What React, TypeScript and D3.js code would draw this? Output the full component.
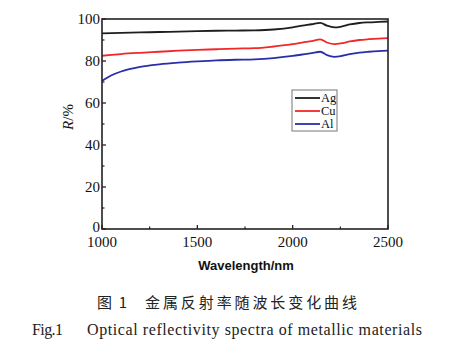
import React from 'react';
import * as d3 from 'd3';

const wavelengths = [1000, 1050, 1100, 1200, 1300, 1400, 1500, 1600, 1700, 1800, 1900, 2000, 2050, 2100, 2145, 2180, 2220, 2260, 2300, 2350, 2400, 2450, 2500];
const ag = [93.2, 93.3, 93.4, 93.6, 93.8, 94.0, 94.2, 94.4, 94.5, 94.6, 95.0, 96.0, 96.8, 97.5, 98.2, 96.8, 96.0, 96.5, 97.4, 98.1, 98.4, 98.6, 98.8];
const cu = [82.5, 82.9, 83.3, 83.9, 84.4, 84.9, 85.3, 85.6, 85.9, 86.1, 86.9, 88.0, 88.8, 89.5, 90.3, 88.8, 88.0, 88.5, 89.3, 90.0, 90.4, 90.7, 90.9];
const al = [70.5, 73.2, 75.0, 77.2, 78.4, 79.2, 79.8, 80.3, 80.6, 80.8, 81.4, 82.4, 83.1, 83.8, 84.4, 82.8, 82.0, 82.5, 83.3, 84.0, 84.4, 84.7, 84.9];

const seriesNames = ['Ag', 'Cu', 'Al'];
const seriesColors = ['#1e1e1e', '#f02828', '#2a2ea8'];
const seriesValues = [ag, cu, al];

const xTicks = [1000, 1500, 2000, 2500];
const xMinor = [1250, 1750, 2250];
const yTicks = [0, 20, 40, 60, 80, 100];
const yMinor = [10, 30, 50, 70, 90];

const W = 458;
const H = 362;
const margin = { left: 102, right: 70, top: 19, bottom: 133 };

export default function App() {
  const x = d3.scaleLinear().domain([1000, 2500]).range([margin.left, W - margin.right]);
  const y = d3.scaleLinear().domain([0, 100]).range([H - margin.bottom, margin.top]);

  const line = d3.line<number>()
    .x((_, i) => x(wavelengths[i]))
    .y(d => y(d))
    .curve(d3.curveMonotoneX);

  const serif = '"Liberation Serif", "Times New Roman", serif';
  const axisColor = '#222';

  return (
    <svg width={W} height={H} style={{ position: 'absolute', left: 0, top: 0, background: '#fff' }}>
      {/* 曲线 */}
      {seriesValues.map((vals, k) => (
        <path key={seriesNames[k]} d={line(vals) || ''} fill="none" stroke={seriesColors[k]} strokeWidth={1.8} />
      ))}

      {/* 边框 */}
      <rect x={x(1000)} y={y(100)} width={x(2500) - x(1000)} height={y(0) - y(100)}
        fill="none" stroke={axisColor} strokeWidth={1.6} />

      {/* x 轴刻度 */}
      {xTicks.map(t => (
        <g key={'x' + t}>
          <line x1={x(t)} x2={x(t)} y1={y(0)} y2={y(0) - 4} stroke={axisColor} strokeWidth={1.3} />
          <text x={x(t)} y={y(0) + 18} textAnchor="middle" fontFamily={serif} fontSize={15} fill="#111">{t}</text>
        </g>
      ))}
      {xMinor.map(t => (
        <line key={'xm' + t} x1={x(t)} x2={x(t)} y1={y(0)} y2={y(0) - 2.5} stroke={axisColor} strokeWidth={1.2} />
      ))}

      {/* y 轴刻度 */}
      {yTicks.map(t => (
        <g key={'y' + t}>
          <line x1={x(1000)} x2={x(1000) + 4} y1={y(t)} y2={y(t)} stroke={axisColor} strokeWidth={1.3} />
          <text x={x(1000) - 2} y={y(t) + (t === 0 ? 3 : 5)} textAnchor="end" fontFamily={serif} fontSize={15} fill="#111">{t}</text>
        </g>
      ))}
      {yMinor.map(t => (
        <line key={'ym' + t} x1={x(1000)} x2={x(1000) + 2.5} y1={y(t)} y2={y(t)} stroke={axisColor} strokeWidth={1.2} />
      ))}

      {/* 坐标轴标题 */}
      <text x={246} y={270} textAnchor="middle" fontFamily='"Liberation Sans", Arial, sans-serif'
        fontWeight="bold" fontSize={13} fill="#111">Wavelength/nm</text>
      <text transform="translate(73,117) rotate(-90)" textAnchor="middle" fontFamily={serif} fontSize={15} fill="#111">
        <tspan fontStyle="italic">R</tspan>/%
      </text>

      {/* 图例 */}
      <rect x={292} y={90} width={45} height={41} fill="#fff" stroke="#777" strokeWidth={1} />
      {seriesNames.map((n, k) => (
        <g key={'lg' + n}>
          <line x1={295} x2={320} y1={98 + k * 13} y2={98 + k * 13} stroke={seriesColors[k]} strokeWidth={1.8} />
          <text x={321} y={102 + k * 13} fontFamily={serif} fontSize={12.5} fill="#111">{n}</text>
        </g>
      ))}

      {/* 图注 */}
      <g fontFamily='"Noto Sans CJK SC", sans-serif' fontSize={15} fill="#222">
        <text x={97} y={308} textLength={30} lengthAdjust="spacing">图 1</text>
        <text x={145} y={308} textLength={212} lengthAdjust="spacing">金属反射率随波长变化曲线</text>
      </g>
      <g fontFamily={serif} fontSize={16} fill="#222">
        <text x={32} y={335} textLength={31} lengthAdjust="spacing">Fig.1</text>
        <text x={87} y={335} textLength={335} lengthAdjust="spacing">Optical reflectivity spectra of metallic materials</text>
      </g>
    </svg>
  );
}
